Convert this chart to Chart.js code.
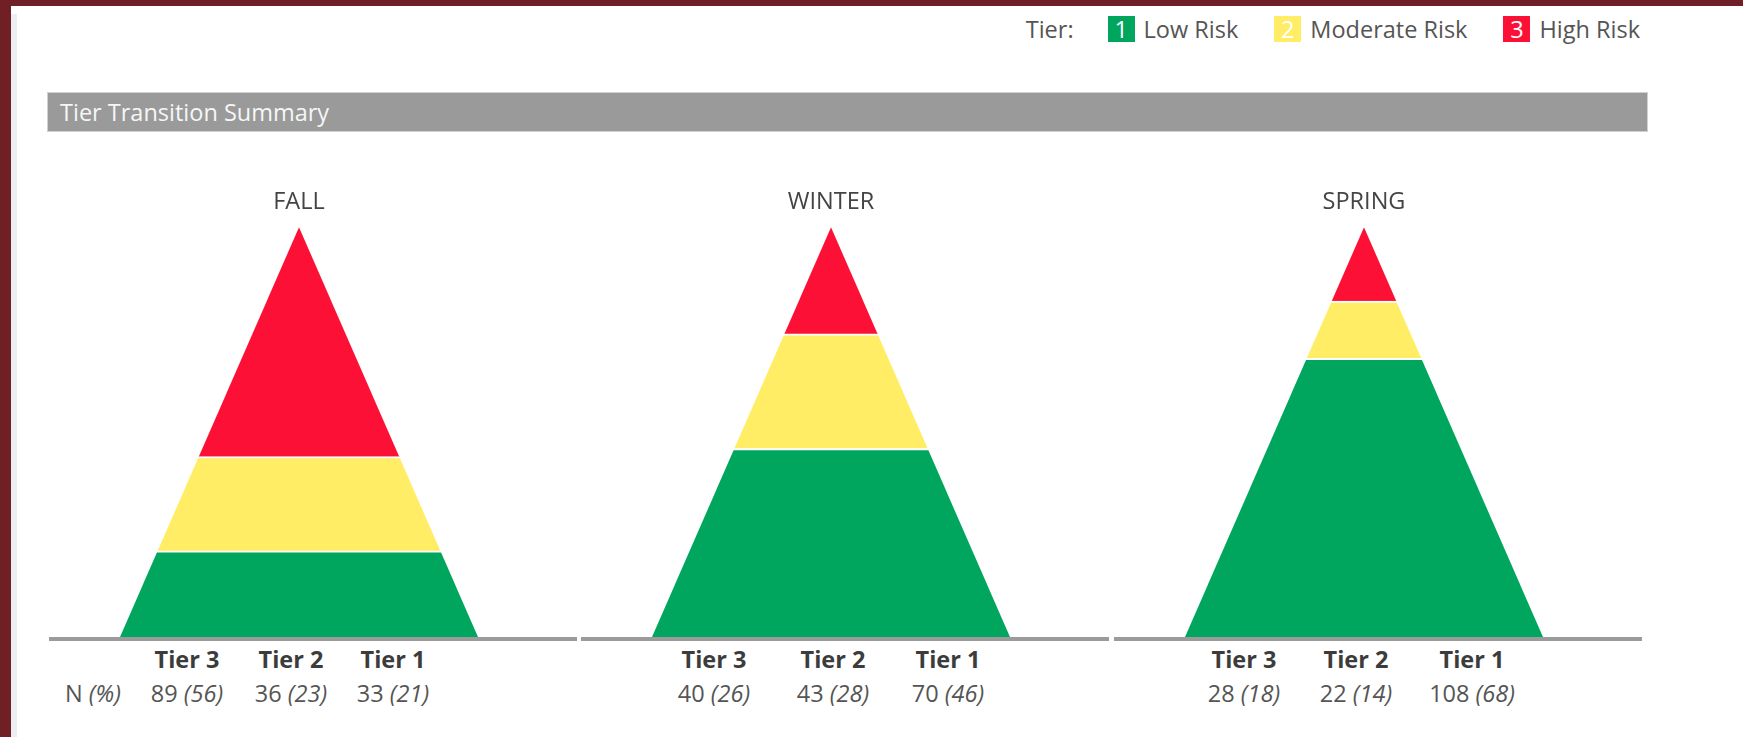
<!DOCTYPE html>
<html lang="en">
<head>
  <meta charset="UTF-8" />
  <title>Tier Transition Summary</title>
  <script src="https://cdn.jsdelivr.net/npm/chart.js"></script>
  <style>
    html, body {
      margin: 0;
      padding: 0;
      width: 1743px;
      height: 737px;
      overflow: hidden;
      background: #fff;
      font-family: "Open Sans", Arial, sans-serif;
    }
    .frame-top { position: absolute; left: 0; top: 0; width: 1743px; height: 6px; background: #701f24; }
    .frame-left { position: absolute; left: 0; top: 0; width: 11px; height: 737px; background: #701f24; }
    .frame-strip { position: absolute; left: 11px; top: 14px; width: 6px; height: 723px; background: #eceef4; }

    .legend {
      position: absolute;
      right: 103px;
      top: 13px;
      display: flex;
      align-items: center;
      font-size: 23.5px;
      line-height: 32px;
      color: #555;
    }
    .legend .lead { margin-right: 34px; }
    .legend .box {
      width: 27px;
      height: 26px;
      color: #fff;
      text-align: center;
      line-height: 26px;
      margin-right: 9px;
    }
    .legend .item { margin-right: 36px; }
    .legend .item:last-child { margin-right: 0; }

    .header {
      position: absolute;
      left: 47px;
      top: 92px;
      width: 1587px;
      height: 38px;
      background: #9a9a9a;
      border: 1px solid #d0d0d0;
      color: #f6f6f6;
      font-size: 23.5px;
      line-height: 38px;
      padding-left: 12px;
      box-sizing: content-box;
    }

    .panel {
      position: absolute;
      top: 170px;
      width: 528px;
      height: 560px;
    }
    .panel canvas { display: block; }
    .cell {
      position: absolute;
      font-size: 23.5px;
      line-height: 32px;
      white-space: nowrap;
      transform: translateX(-50%);
    }
    .cell.head { top: 473px; font-weight: bold; color: #3c3c3c; }
    .cell.val { top: 507px; color: #555; }
    .cell.rowlab { transform: none; }
    .cell i { font-style: italic; }
  </style>
</head>
<body>
  <div class="frame-top"></div>
  <div class="frame-left"></div>
  <div class="frame-strip"></div>

  <div class="legend" id="legend"></div>
  <div class="header">Tier Transition Summary</div>

  <div id="panels"></div>

  <script>
    const seasons = ["FALL", "WINTER", "SPRING"];
    const tierLabels = ["Tier 3", "Tier 2", "Tier 1"];

    // N and (%) per season
    const tier3N = [89, 40, 28];
    const tier3Pct = [56, 26, 18];
    const tier2N = [36, 43, 22];
    const tier2Pct = [23, 28, 14];
    const tier1N = [33, 70, 108];
    const tier1Pct = [21, 46, 68];

    const legendNums = ["1", "2", "3"];
    const legendLabels = ["Low Risk", "Moderate Risk", "High Risk"];

    const GREEN = "#00a65e";
    const YELLOW = "#ffed66";
    const RED = "#fc1035";
    const legendColors = [GREEN, YELLOW, RED];

    // layout only: panel lefts and table column centres inside each panel
    const panelLeft = [49, 581, 1114];
    const colCenters = [[138, 242, 344], [133, 252, 367], [130, 242, 358]];

    // legend
    const legend = document.getElementById("legend");
    let html = '<span class="lead">Tier:</span>';
    legendNums.forEach((n, i) => {
      html += '<span class="box" style="background:' + legendColors[i] + '">' + n + '</span>' +
              '<span class="item">' + legendLabels[i] + '</span>';
    });
    legend.innerHTML = html;

    // clip the stacked bar into a triangle
    const pyramidClip = {
      id: "pyramidClip",
      beforeDatasetsDraw(chart) {
        const { ctx, chartArea: a } = chart;
        ctx.save();
        ctx.beginPath();
        ctx.moveTo(a.left, a.bottom);
        ctx.lineTo((a.left + a.right) / 2, a.top);
        ctx.lineTo(a.right, a.bottom);
        ctx.closePath();
        ctx.clip();
      },
      afterDatasetsDraw(chart) {
        chart.ctx.restore();
      }
    };

    const baseLine = {
      id: "baseLine",
      afterDraw(chart) {
        const { ctx, chartArea: a } = chart;
        ctx.save();
        ctx.fillStyle = "#9b9b9b";
        ctx.fillRect(0, a.bottom, chart.width, 4);
        ctx.restore();
      }
    };

    function draw() {
      const panels = document.getElementById("panels");
      seasons.forEach((season, i) => {
        const panel = document.createElement("div");
        panel.className = "panel";
        panel.style.left = panelLeft[i] + "px";
        const canvas = document.createElement("canvas");
        canvas.width = 528;
        canvas.height = 471;
        panel.appendChild(canvas);

        if (i === 0) {
          const lab = document.createElement("span");
          lab.className = "cell val rowlab";
          lab.style.left = "16px";
          lab.innerHTML = "N <i>(%)</i>";
          panel.appendChild(lab);
        }
        const ns = [tier3N[i], tier2N[i], tier1N[i]];
        const ps = [tier3Pct[i], tier2Pct[i], tier1Pct[i]];
        tierLabels.forEach((t, j) => {
          const h = document.createElement("span");
          h.className = "cell head";
          h.style.left = colCenters[i][j] + "px";
          h.textContent = t;
          panel.appendChild(h);
          const v = document.createElement("span");
          v.className = "cell val";
          v.style.left = colCenters[i][j] + "px";
          v.innerHTML = ns[j] + " <i>(" + ps[j] + ")</i>";
          panel.appendChild(v);
        });
        panels.appendChild(panel);

        const seg = { top: 2, left: 0, right: 0, bottom: 0 };
        new Chart(canvas, {
          type: "bar",
          data: {
            labels: [season],
            datasets: [
              { label: "Tier 1", data: [tier1Pct[i]], backgroundColor: GREEN, borderColor: "#fff", borderWidth: seg },
              { label: "Tier 2", data: [tier2Pct[i]], backgroundColor: YELLOW, borderColor: "#fff", borderWidth: seg },
              { label: "Tier 3", data: [tier3Pct[i]], backgroundColor: RED, borderColor: "#fff", borderWidth: 0 }
            ]
          },
          options: {
            responsive: false,
            animation: false,
            layout: { padding: { left: 71, right: 99, top: 0, bottom: 4 } },
            datasets: { bar: { categoryPercentage: 1, barPercentage: 1, borderSkipped: false } },
            plugins: {
              legend: { display: false },
              tooltip: { enabled: false },
              title: {
                display: true,
                text: season,
                color: "#444",
                font: { family: "Open Sans", size: 23.5, weight: "normal" },
                padding: { top: 18, bottom: 11 }
              }
            },
            scales: {
              x: { stacked: true, display: false },
              y: { stacked: true, display: false, min: 0, max: 100 }
            }
          },
          plugins: [pyramidClip, baseLine]
        });
      });
    }

    document.fonts.load('23.5px "Open Sans"').then(draw, draw);
  </script>
</body>
</html>
